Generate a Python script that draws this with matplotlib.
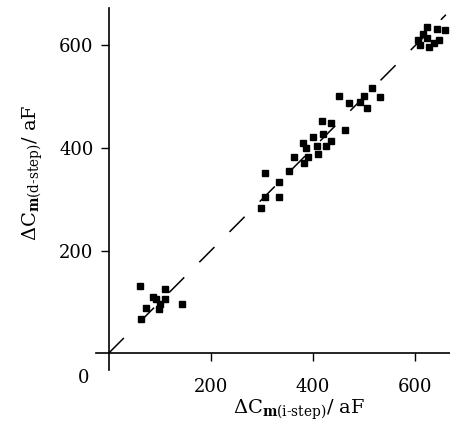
import matplotlib
matplotlib.use("Agg")
import matplotlib.pyplot as plt

plt.rcParams['font.family'] = ['DejaVu Serif']
plt.rcParams['mathtext.fontset'] = 'dejavuserif'

# capacitance steps, aF
x_istep = [61, 110, 86, 93, 110, 73, 99, 143, 64, 100,
           299, 306, 333, 305, 333, 352, 363, 383, 391, 410,
           387, 407, 425, 381, 436, 399, 420, 418, 436, 463,
           451, 471, 491, 499, 505, 516, 530,
           622, 643, 659, 616, 623, 606, 646, 610, 626, 636]
y_dstep = [131, 126, 110, 105, 105, 88, 87, 96, 66, 96,
           284, 304, 304, 352, 334, 356, 383, 371, 383, 388,
           401, 403, 403, 410, 414, 422, 428, 453, 448, 436,
           501, 488, 490, 502, 479, 517, 500,
           637, 633, 630, 622, 615, 611, 611, 601, 598, 604]

identity = [0, 660]
tick_vals = [200, 400, 600]

fig = plt.figure(figsize=(4.5, 4.4), dpi=100)
ax = fig.add_axes([0.2133, 0.159, 0.7867, 0.8227])

ax.plot(identity, identity, color='black', lw=1.1, ls=(0, (14, 14)))
ax.plot(x_istep, y_dstep, 's', color='black', markersize=5, ls='none')

ax.set_xlim(-25, 668)
ax.set_ylim(-33, 673)
ax.spines['top'].set_visible(False)
ax.spines['right'].set_visible(False)
ax.spines['left'].set_position(('data', 0))
ax.spines['bottom'].set_position(('data', 0))
ax.spines['left'].set_linewidth(1.2)
ax.spines['bottom'].set_linewidth(1.2)

ax.set_xticks(tick_vals)
ax.set_yticks(tick_vals)
ax.tick_params(axis='x', direction='out', length=6, width=1, labelsize=13, pad=12)
ax.tick_params(axis='y', direction='out', length=6, width=1, labelsize=13, pad=5)

ax.annotate("0", xy=(0, 0), xytext=(-25, -25), textcoords='offset pixels',
            ha='center', va='center', fontsize=13, annotation_clip=False)

fig.text(299 / 450, 1 - 414 / 440,
         r"$\Delta\mathrm{C}_{\mathbf{m}\mathrm{(i‐step)}}\mathrm{/\ aF}$",
         ha='center', va='baseline', fontsize=14)
fig.text(33 / 450, 1 - 173 / 440,
         r"$\Delta\mathrm{C}_{\mathbf{m}\mathrm{(d‐step)}}\mathrm{/\ aF}$",
         ha='center', va='center', fontsize=14, rotation=90)

fig.savefig("out.png", dpi=100)
